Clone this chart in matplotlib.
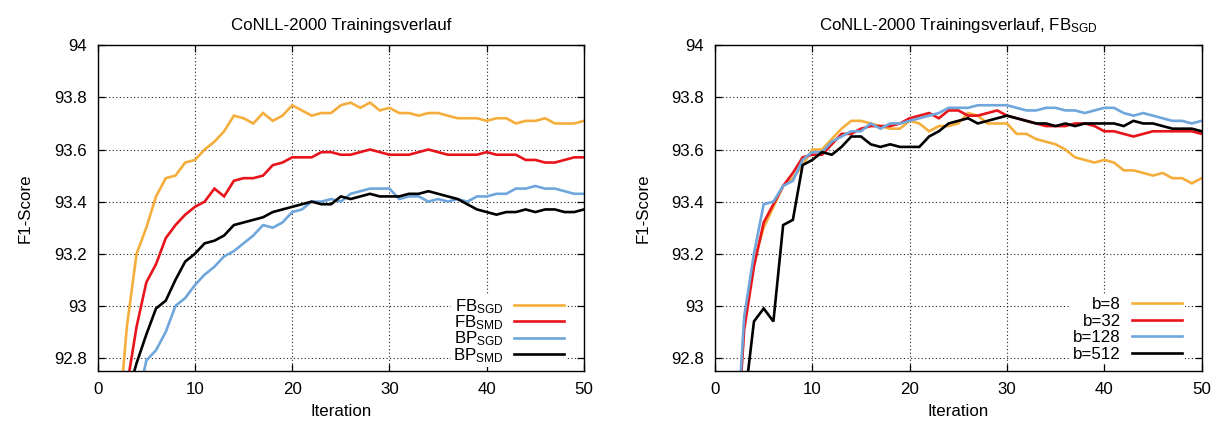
import matplotlib
matplotlib.use("Agg")
import matplotlib.pyplot as plt

plt.rcParams['font.family'] = ['Liberation Sans', 'DejaVu Sans']
plt.rcParams['mathtext.fontset'] = 'custom'
plt.rcParams['mathtext.rm'] = 'Liberation Sans'
plt.rcParams['mathtext.it'] = 'Liberation Sans:italic'
plt.rcParams['mathtext.bf'] = 'Liberation Sans:bold'

iterations = list(range(1, 51))

# left chart
fb_sgd = [92.0, 92.48, 92.92, 93.20, 93.30, 93.42, 93.49, 93.50, 93.55, 93.56,
          93.60, 93.63, 93.67, 93.73, 93.72, 93.70, 93.74, 93.71, 93.73, 93.77,
          93.75, 93.73, 93.74, 93.74, 93.77, 93.78, 93.76, 93.78, 93.75, 93.76,
          93.74, 93.74, 93.73, 93.74, 93.74, 93.73, 93.72, 93.72, 93.72, 93.71,
          93.72, 93.72, 93.70, 93.71, 93.71, 93.72, 93.70, 93.70, 93.70, 93.71]
fb_smd = [91.8, 92.3, 92.69, 92.92, 93.09, 93.16, 93.26, 93.31, 93.35, 93.38,
          93.40, 93.45, 93.42, 93.48, 93.49, 93.49, 93.50, 93.54, 93.55, 93.57,
          93.57, 93.57, 93.59, 93.59, 93.58, 93.58, 93.59, 93.60, 93.59, 93.58,
          93.58, 93.58, 93.59, 93.60, 93.59, 93.58, 93.58, 93.58, 93.58, 93.59,
          93.58, 93.58, 93.58, 93.56, 93.56, 93.55, 93.55, 93.56, 93.57, 93.57]
bp_sgd = [91.5, 92.0, 92.3, 92.62, 92.79, 92.83, 92.90, 93.00, 93.03, 93.08,
          93.12, 93.15, 93.19, 93.21, 93.24, 93.27, 93.31, 93.30, 93.32, 93.36,
          93.37, 93.40, 93.40, 93.41, 93.40, 93.43, 93.44, 93.45, 93.45, 93.45,
          93.41, 93.42, 93.42, 93.40, 93.41, 93.40, 93.41, 93.40, 93.42, 93.42,
          93.43, 93.43, 93.45, 93.45, 93.46, 93.45, 93.45, 93.44, 93.43, 93.43]
bp_smd = [91.6, 92.1, 92.65, 92.78, 92.89, 92.99, 93.02, 93.10, 93.17, 93.20,
          93.24, 93.25, 93.27, 93.31, 93.32, 93.33, 93.34, 93.36, 93.37, 93.38,
          93.39, 93.40, 93.39, 93.39, 93.42, 93.41, 93.42, 93.43, 93.42, 93.42,
          93.42, 93.43, 93.43, 93.44, 93.43, 93.42, 93.41, 93.39, 93.37, 93.36,
          93.35, 93.36, 93.36, 93.37, 93.36, 93.37, 93.37, 93.36, 93.36, 93.37]

# right chart
b8 = [92.0, 92.33, 92.94, 93.17, 93.30, 93.38, 93.46, 93.49, 93.54, 93.60,
      93.60, 93.64, 93.68, 93.71, 93.71, 93.70, 93.69, 93.68, 93.68, 93.71,
      93.70, 93.67, 93.69, 93.69, 93.70, 93.74, 93.73, 93.70, 93.70, 93.70,
      93.66, 93.66, 93.64, 93.63, 93.62, 93.60, 93.57, 93.56, 93.55, 93.56,
      93.55, 93.52, 93.52, 93.51, 93.50, 93.51, 93.49, 93.49, 93.47, 93.49]
b32 = [91.9, 92.33, 92.91, 93.15, 93.32, 93.39, 93.46, 93.51, 93.57, 93.58,
       93.58, 93.62, 93.66, 93.66, 93.68, 93.69, 93.69, 93.69, 93.70, 93.72,
       93.73, 93.74, 93.72, 93.75, 93.75, 93.73, 93.73, 93.74, 93.75, 93.73,
       93.72, 93.71, 93.70, 93.69, 93.69, 93.69, 93.70, 93.70, 93.69, 93.67,
       93.67, 93.66, 93.65, 93.66, 93.67, 93.67, 93.67, 93.67, 93.67, 93.66]
b128 = [91.9, 92.35, 92.96, 93.20, 93.39, 93.40, 93.46, 93.48, 93.56, 93.59,
        93.59, 93.63, 93.65, 93.67, 93.67, 93.70, 93.68, 93.70, 93.70, 93.71,
        93.72, 93.73, 93.74, 93.76, 93.76, 93.76, 93.77, 93.77, 93.77, 93.77,
        93.76, 93.75, 93.75, 93.76, 93.76, 93.75, 93.75, 93.74, 93.75, 93.76,
        93.76, 93.74, 93.73, 93.74, 93.73, 93.72, 93.71, 93.71, 93.70, 93.71]
b512 = [91.8, 92.2, 92.62, 92.94, 92.99, 92.94, 93.31, 93.33, 93.54, 93.56,
        93.59, 93.58, 93.61, 93.65, 93.65, 93.62, 93.61, 93.62, 93.61, 93.61,
        93.61, 93.65, 93.67, 93.70, 93.71, 93.72, 93.70, 93.71, 93.72, 93.73,
        93.72, 93.71, 93.70, 93.70, 93.69, 93.70, 93.69, 93.70, 93.70, 93.70,
        93.70, 93.69, 93.71, 93.70, 93.70, 93.69, 93.68, 93.68, 93.68, 93.67]

left_labels = [r'$\mathregular{FB_{SGD}}$', r'$\mathregular{FB_{SMD}}$',
               r'$\mathregular{BP_{SGD}}$', r'$\mathregular{BP_{SMD}}$']
right_labels = ['b=8', 'b=32', 'b=128', 'b=512']
colors = ['#f5ae3c', '#e8141c', '#6fa6dc', '#000000']

xticks = [0, 10, 20, 30, 40, 50]
yticks = [92.8, 93.0, 93.2, 93.4, 93.6, 93.8, 94.0]
ytick_labels = ['92.8', '93', '93.2', '93.4', '93.6', '93.8', '94']

FS = 12.2
fig = plt.figure(figsize=(12.21, 4.21), dpi=100)
ax1 = fig.add_axes([0.0800, 0.1188, 0.3983, 0.7736])
ax2 = fig.add_axes([0.5856, 0.1188, 0.3985, 0.7736])


def style(ax, title, series, labels, lspace, anchor_y):
    for s, lab, c in zip(series, labels, colors):
        ax.plot(iterations, s, color=c, lw=1.9, label=lab, solid_joinstyle='miter')
    ax.set_xlim(0, 50)
    ax.set_ylim(92.75, 94.0)
    ax.set_xticks(xticks)
    ax.set_yticks(yticks)
    ax.set_yticklabels(ytick_labels)
    ax.tick_params(direction='in', top=True, right=True, length=5, width=0.9,
                   labelsize=FS, pad=8)
    ax.grid(True, color='#222222', linestyle=(0, (1, 2.2)), linewidth=0.8)
    for sp in ax.spines.values():
        sp.set_linewidth(1.0)
    ax.set_title(title, fontsize=FS, pad=11)
    ax.set_xlabel('Iteration', fontsize=FS, labelpad=5)
    ax.set_ylabel('F1-Score', fontsize=FS, labelpad=15)
    leg = ax.legend(loc='lower right', bbox_to_anchor=(0.965, anchor_y),
                    borderaxespad=0, borderpad=0.15, markerfirst=False,
                    handlelength=2.95, handletextpad=0.65, labelspacing=lspace,
                    fontsize=FS, frameon=True, fancybox=False)
    leg.get_frame().set_facecolor('white')
    leg.get_frame().set_edgecolor('none')
    leg.get_frame().set_alpha(1.0)
    for t in leg.get_texts():
        t.set_ha('right')


style(ax1, 'CoNLL-2000 Trainingsverlauf', [fb_sgd, fb_smd, bp_sgd, bp_smd],
      left_labels, -0.14, 0.012)
style(ax2, r'CoNLL-2000 Trainingsverlauf, $\mathregular{FB_{SGD}}$', [b8, b32, b128, b512],
      right_labels, 0.09, 0.021)

fig.savefig('out.png', dpi=100)
